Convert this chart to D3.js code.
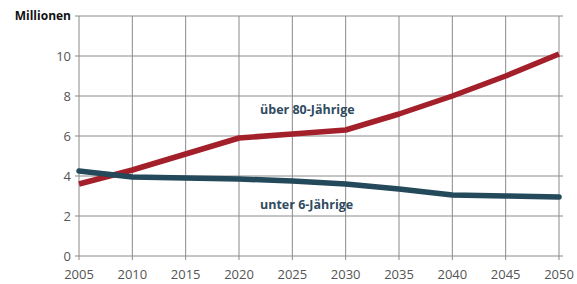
<!DOCTYPE html>
<html>
<head>
<meta charset="utf-8">
<script src="https://cdn.jsdelivr.net/npm/d3@7"></script>
<style>
  body { margin: 0; background: #fff; }
  svg { display: block; font-family: "Open Sans", "Noto Sans", sans-serif; }
</style>
</head>
<body>
<svg id="chart" width="577" height="284"></svg>
<script>
// Daten
const jahre = [2005, 2010, 2015, 2020, 2025, 2030, 2035, 2040, 2045, 2050];
const ueber80 = [3.6, 4.3, 5.1, 5.9, 6.1, 6.3, 7.1, 8.0, 9.0, 10.1];
const unter6 = [4.25, 3.95, 3.9, 3.85, 3.75, 3.6, 3.35, 3.05, 3.0, 2.95];
const yTicks = [0, 2, 4, 6, 8, 10];

const svg = d3.select("#chart");
const margin = { left: 79, right: 18, top: 16, bottom: 28 };
const width = 577, height = 284;

const x = d3.scaleLinear().domain([2005, 2050]).range([margin.left, width - margin.right]);
const y = d3.scaleLinear().domain([0, 12]).range([height - margin.bottom, margin.top]);

const grid = svg.append("g");

// horizontale Linien
grid.selectAll(".h").data(yTicks.concat([12])).enter().append("line")
    .attr("x1", margin.left - 4).attr("x2", x(2050) + 4)
    .attr("y1", d => y(d)).attr("y2", d => y(d))
    .attr("stroke", "#8a8a8a").attr("stroke-width", 1);

// vertikale Linien
grid.selectAll(".v").data(jahre).enter().append("line")
    .attr("x1", d => x(d)).attr("x2", d => x(d))
    .attr("y1", y(12)).attr("y2", y(0) + 4)
    .attr("stroke", "#8a8a8a").attr("stroke-width", 1);

// Achsenbeschriftung
svg.selectAll(".yl").data(yTicks).enter().append("text")
    .attr("x", margin.left - 8).attr("y", d => y(d))
    .attr("dy", "0.35em").attr("text-anchor", "end")
    .attr("font-size", 13).attr("fill", "#555")
    .text(d => d);

svg.selectAll(".xl").data(jahre).enter().append("text")
    .attr("x", d => x(d)).attr("y", y(0) + 23)
    .attr("text-anchor", "middle")
    .attr("font-size", 13).attr("fill", "#555")
    .text(d => d);

svg.append("text")
    .attr("x", margin.left - 8).attr("y", y(12))
    .attr("dy", "0.35em").attr("text-anchor", "end")
    .attr("font-size", 12).attr("font-weight", "bold").attr("fill", "#111")
    .text("Millionen");

const line = d3.line().x((d, i) => x(jahre[i])).y(d => y(d));

svg.append("path").datum(ueber80)
    .attr("d", line).attr("fill", "none")
    .attr("stroke", "#a3202b").attr("stroke-width", 5.5)
    .attr("stroke-linejoin", "round");

svg.append("path").datum(unter6)
    .attr("d", line).attr("fill", "none")
    .attr("stroke", "#23495b").attr("stroke-width", 5.5)
    .attr("stroke-linejoin", "round").attr("stroke-linecap", "round");

// Serienbeschriftung
svg.append("text")
    .attr("x", 260).attr("y", y(7.3))
    .attr("dy", "0.35em")
    .attr("font-size", 12.5).attr("font-weight", "bold").attr("fill", "#2f4b5f")
    .text("über 80-Jährige");

svg.append("text")
    .attr("x", 260).attr("y", y(2.55))
    .attr("dy", "0.35em")
    .attr("font-size", 12.5).attr("font-weight", "bold").attr("fill", "#2f4b5f")
    .text("unter 6-Jährige");
</script>
</body>
</html>
